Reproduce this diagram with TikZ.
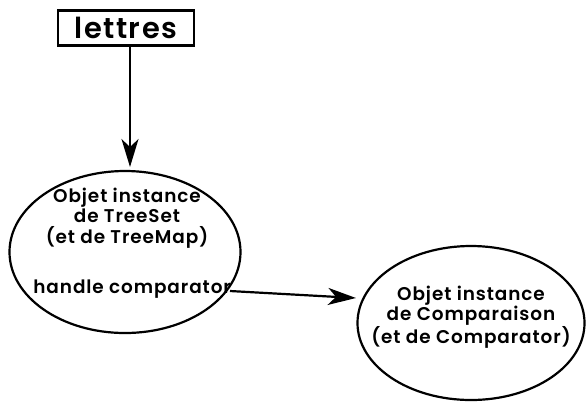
\documentclass[tikz,border=0pt]{standalone}
\usepackage{fontspec}
\setmainfont{Poppins SemiBold}[LetterSpace=5]
\usetikzlibrary{arrows.meta,shapes.geometric}
\begin{document}
\begin{tikzpicture}[x=1bp,y=-1bp,
  line width=2.2bp,
  conn/.style={-{Stealth[length=28bp,width=17bp,inset=8bp]}},
  lbl/.style={font=\fontsize{18.5}{20.5}\selectfont, align=center},
  ell/.style={draw, ellipse, inner sep=0pt}]
\useasboundingbox (0,0) rectangle (587,405);
\node[draw, line width=2.6bp, minimum width=136bp, minimum height=35bp, inner sep=0pt,
      font=\fontsize{29}{30}\selectfont] (let) at (126,28) {lettres};
\node[ell, minimum width=231bp, minimum height=162bp] (ts) at (125,252) {};
\node[lbl] (tstxt) at (127,218) {Objet instance\\de TreeSet\\(et de TreeMap)};
\node[lbl, anchor=east, inner sep=0pt] (hc) at (232,289) {handle comparator};
\node[ell, minimum width=227bp, minimum height=154bp] (cmp) at (471,323) {};
\node[lbl] (cmptxt) at (471,317) {Objet instance\\de Comparaison\\(et de Comparator)};
\coordinate (hs) at (230,291);
\coordinate (tip) at (356,298);
\coordinate (top) at (130,167);
\draw[conn] (let.south -| top) -- (top);
\draw[conn] (hs) -- (tip);
\end{tikzpicture}
\end{document}
